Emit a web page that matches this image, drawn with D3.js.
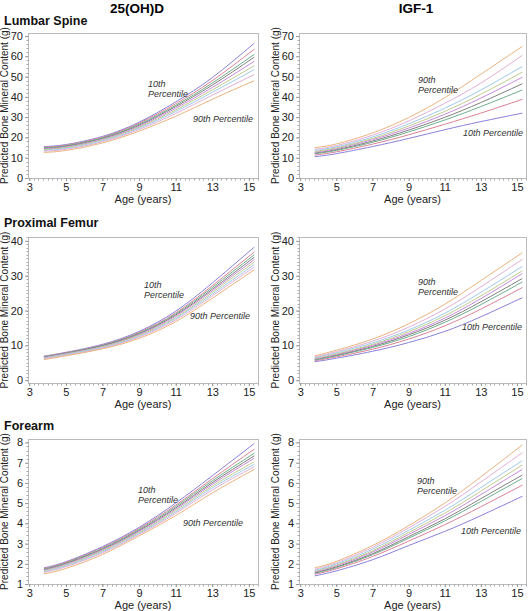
<!DOCTYPE html>
<html><head><meta charset="utf-8">
<script src="https://cdn.jsdelivr.net/npm/d3@7"></script>
<style>
body{margin:0;background:#fff;}
svg{display:block;font-family:"Liberation Sans",Arial,sans-serif;}
</style></head>
<body><svg id="c" width="528" height="611"></svg>
<script>
// ---- data ----
const ages = [3.8, 5, 7, 9, 11, 13, 15.3];
const percentiles = ["10th","20th","30th","40th","50th","60th","70th","80th","90th"];
const colors = ["#8a82dc","#dc8296","#6fae8c","#808080","#c98ad9","#bfcb8e","#9fcbe9","#e1b0d6","#ebb37e"];
const columnTitles = ["25(OH)D","IGF-1"];
const rowTitles = ["Lumbar Spine","Proximal Femur","Forearm"];
const xTicks = [3,5,7,9,11,13,15];
const yTicksLumbar = [0,10,20,30,40,50,60,70];
const yTicksFemur = [0,10,20,30,40];
const yTicksForearm = [1,2,3,4,5,6,7,8];

// rows: 10th ... 90th percentile
const lumbarOHD = [
 [15.5,16.5,20.5,27.5,37.5,49.5,66.5],
 [15.2,16.2,20.1,27.0,36.6,48.0,63.5],
 [14.9,15.9,19.8,26.5,35.8,46.8,61.0],
 [14.6,15.6,19.5,26.0,35.2,45.8,59.6],
 [14.3,15.3,19.1,25.5,34.4,44.6,57.6],
 [14.0,15.0,18.8,25.0,33.6,43.4,55.4],
 [13.6,14.6,18.4,24.5,32.8,42.2,53.5],
 [13.2,14.2,17.9,23.9,31.8,40.8,51.0],
 [12.6,13.6,17.3,23.1,30.4,38.8,48.0]];
const lumbarIGF = [
 [10.5,12.0,15.5,19.5,23.8,27.8,32.0],
 [11.3,12.9,16.7,21.3,26.5,32.0,38.8],
 [11.9,13.6,17.6,22.7,28.6,35.2,43.4],
 [12.3,14.0,18.2,23.6,29.9,37.2,46.5],
 [12.7,14.5,18.9,24.6,31.4,39.4,49.7],
 [13.1,14.9,19.5,25.6,32.8,41.3,52.2],
 [13.6,15.4,20.2,26.7,34.4,43.4,55.0],
 [14.2,16.0,21.1,28.1,36.8,46.8,60.5],
 [15.0,16.8,22.2,29.8,39.6,51.2,64.9]];
const femurOHD = [
 [6.9,8.0,10.3,14.0,19.8,27.9,38.2],
 [6.8,7.9,10.1,13.7,19.3,27.1,36.8],
 [6.7,7.8,10.0,13.5,19.0,26.6,36.0],
 [6.6,7.7,9.9,13.3,18.7,26.1,35.3],
 [6.5,7.6,9.7,13.1,18.4,25.7,34.6],
 [6.4,7.5,9.6,12.9,18.0,25.2,33.9],
 [6.3,7.4,9.4,12.6,17.7,24.7,33.2],
 [6.1,7.2,9.2,12.4,17.3,24.2,32.5],
 [5.9,7.0,9.0,12.0,16.8,23.5,31.7]];
const femurIGF = [
 [5.3,6.3,8.3,10.8,14.0,18.2,23.7],
 [5.6,6.7,8.9,11.8,15.6,20.4,26.6],
 [5.8,7.0,9.4,12.5,16.6,21.7,28.2],
 [6.0,7.2,9.7,13.0,17.2,22.5,29.2],
 [6.1,7.4,10.0,13.4,17.8,23.4,30.6],
 [6.3,7.6,10.3,13.9,18.5,24.2,31.4],
 [6.5,7.9,10.7,14.4,19.2,25.2,32.7],
 [6.7,8.2,11.2,15.2,20.4,26.8,34.7],
 [7.0,8.6,11.8,16.2,21.8,28.6,36.6]];
const forearmOHD = [
 [1.80,2.10,2.85,3.80,5.00,6.35,7.95],
 [1.77,2.07,2.80,3.74,4.90,6.20,7.67],
 [1.74,2.04,2.76,3.69,4.83,6.10,7.47],
 [1.71,2.01,2.72,3.64,4.76,6.01,7.34],
 [1.68,1.98,2.68,3.60,4.70,5.93,7.22],
 [1.65,1.94,2.64,3.55,4.63,5.84,7.05],
 [1.61,1.90,2.59,3.50,4.56,5.75,6.92],
 [1.57,1.85,2.54,3.45,4.49,5.65,6.80],
 [1.50,1.77,2.46,3.38,4.38,5.50,6.67]];
const forearmIGF = [
 [1.40,1.65,2.20,2.90,3.60,4.38,5.34],
 [1.48,1.75,2.36,3.12,3.93,4.82,5.89],
 [1.53,1.81,2.45,3.26,4.12,5.08,6.22],
 [1.56,1.85,2.50,3.34,4.22,5.22,6.39],
 [1.60,1.90,2.58,3.45,4.37,5.42,6.67],
 [1.63,1.94,2.64,3.54,4.50,5.59,6.89],
 [1.67,1.99,2.72,3.65,4.64,5.77,7.10],
 [1.73,2.05,2.81,3.77,4.83,6.04,7.50],
 [1.80,2.12,2.90,3.88,5.00,6.30,7.88]];

// ---- layout ----
const svg = d3.select("#c");
const colX = [{x0:28,x1:258},{x0:299,x1:526}];
const rowY = [{y0:33,y1:178},{y0:237,y1:383},{y0:439,y1:584}];
const rowYDomain = [[0,71.5],[-0.8,41.1],[1,8.17]];
const rowTicks = [yTicksLumbar,yTicksFemur,yTicksForearm];
const rowMinor = [2,1,0.2];
const panelData = [[lumbarOHD,lumbarIGF],[femurOHD,femurIGF],[forearmOHD,forearmIGF]];
const labelPos = [
 [{two:[148,84],twoText:"10th",one:[193,119],oneText:"90th Percentile"},
  {two:[418,80],twoText:"90th",one:[463,133],oneText:"10th Percentile"}],
 [{two:[144,285],twoText:"10th",one:[190,316],oneText:"90th Percentile"},
  {two:[418,282],twoText:"90th",one:[462,327],oneText:"10th Percentile"}],
 [{two:[138,490],twoText:"10th",one:[183,523],oneText:"90th Percentile"},
  {two:[417,481],twoText:"90th",one:[461,531],oneText:"10th Percentile"}]];

columnTitles.forEach((t,i)=>{
  svg.append("text").attr("x",[137,416][i]).attr("y",13)
    .attr("text-anchor","middle").attr("font-size",13.5).attr("font-weight","bold").attr("fill","#000").text(t);
});
const rowTitleY = [25,227,430];
rowTitles.forEach((t,i)=>{
  svg.append("text").attr("x",4).attr("y",rowTitleY[i])
    .attr("font-size",12.5).attr("font-weight","bold").attr("fill","#111").text(t);
});

const line = (xs,ys)=>d3.line().x((d,i)=>xs(ages[i])).y(d=>ys(d)).curve(d3.curveNatural);

rowY.forEach((r,ri)=>{
  colX.forEach((c,ci)=>{
    const xs = d3.scaleLinear().domain([2.93,15.5]).range([c.x0,c.x1]);
    const ys = d3.scaleLinear().domain(rowYDomain[ri]).range([r.y1,r.y0]);
    const g = svg.append("g");
    g.append("rect").attr("x",c.x0+0.5).attr("y",r.y0+0.5).attr("width",c.x1-c.x0).attr("height",r.y1-r.y0)
      .attr("fill","none").attr("stroke","#bbbbbb").attr("stroke-width",1);
    const xmin = d3.range(3,15.51,0.25);
    g.selectAll(".mx").data(xmin).join("line")
      .attr("x1",d=>Math.round(xs(d))+0.5).attr("x2",d=>Math.round(xs(d))+0.5)
      .attr("y1",r.y1+0.5).attr("y2",r.y1+2.5).attr("stroke","#aaa").attr("stroke-width",1);
    const ym = rowMinor[ri];
    const ymin = d3.range(Math.ceil(rowYDomain[ri][0]/ym)*ym, rowYDomain[ri][1]+1e-9, ym);
    g.selectAll(".my").data(ymin).join("line")
      .attr("y1",d=>Math.round(ys(d))+0.5).attr("y2",d=>Math.round(ys(d))+0.5)
      .attr("x1",c.x0-1.5).attr("x2",c.x0+0.5).attr("stroke","#aaa").attr("stroke-width",1);
    const xa = d3.axisBottom(xs).tickValues(xTicks).tickSize(3).tickPadding(2).tickFormat(d3.format("d"));
    const gx = g.append("g").attr("transform",`translate(0,${r.y1})`).call(xa);
    gx.select(".domain").remove();
    gx.selectAll("line").attr("stroke","#999");
    gx.selectAll("text").attr("font-size",11).attr("fill","#222").attr("font-family","Liberation Sans, Arial, sans-serif");
    const ya = d3.axisLeft(ys).tickValues(rowTicks[ri]).tickSize(3).tickPadding(2).tickFormat(d3.format("d"));
    const gy = g.append("g").attr("transform",`translate(${c.x0},0)`).call(ya);
    gy.select(".domain").remove();
    gy.selectAll("line").attr("stroke","#999");
    gy.selectAll("text").attr("font-size",11).attr("fill","#222").attr("font-family","Liberation Sans, Arial, sans-serif");
    g.append("text").attr("x",(c.x0+c.x1)/2).attr("y",r.y1+25).attr("text-anchor","middle")
      .attr("font-size",11).attr("fill","#222").text("Age (years)");
    g.append("text").attr("transform",`translate(${c.x0-20},${(r.y0+r.y1)/2}) rotate(-90)`)
      .attr("text-anchor","middle").attr("font-size",10).attr("fill","#222")
      .text("Predicted Bone Mineral Content (g)");
    const data = panelData[ri][ci];
    g.selectAll(".ln").data(data).join("path")
      .attr("d",d=>line(xs,ys)(d)).attr("fill","none")
      .attr("stroke",(d,i)=>colors[i]).attr("stroke-width",1);
    const lp = labelPos[ri][ci];
    g.append("text").attr("x",lp.two[0]).attr("y",lp.two[1]+3).attr("font-size",9)
      .attr("font-style","italic").attr("fill","#333").text(lp.twoText);
    g.append("text").attr("x",lp.two[0]).attr("y",lp.two[1]+13).attr("font-size",9)
      .attr("font-style","italic").attr("fill","#333").text("Percentile");
    g.append("text").attr("x",lp.one[0]).attr("y",lp.one[1]+3).attr("font-size",9)
      .attr("font-style","italic").attr("fill","#333").text(lp.oneText);
  });
});
</script></body></html>
